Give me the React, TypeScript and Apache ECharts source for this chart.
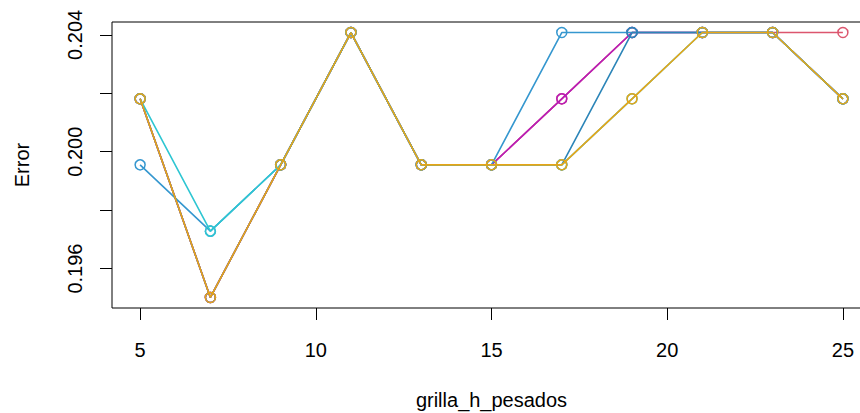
import React, { useEffect, useRef } from "react";
import * as echarts from "echarts";

const xValues = [5, 7, 9, 11, 13, 15, 17, 19, 21, 23, 25];
const seriesNames = ["s1", "s2", "s3", "s4", "s5", "s6"];
const seriesColors = ["#DC566E", "#B81CB8", "#3597CF", "#2C85B8", "#2EC6D2", "#E8A516"];
const s1 = [0.20181, 0.19501, 0.19955, 0.20408, 0.19955, 0.19955, 0.20181, 0.20408, 0.20408, 0.20408, 0.20408];
const s2 = [0.20181, 0.19501, 0.19955, 0.20408, 0.19955, 0.19955, 0.20181, 0.20408, 0.20408, 0.20408, 0.20181];
const s3 = [0.19955, 0.19728, 0.19955, 0.20408, 0.19955, 0.19955, 0.20408, 0.20408, 0.20408, 0.20408, 0.20181];
const s4 = [0.20181, 0.19501, 0.19955, 0.20408, 0.19955, 0.19955, 0.19955, 0.20408, 0.20408, 0.20408, 0.20181];
const s5 = [0.20181, 0.19728, 0.19955, 0.20408, 0.19955, 0.19955, 0.19955, 0.20181, 0.20408, 0.20408, 0.20181];
const s6 = [0.20181, 0.19501, 0.19955, 0.20408, 0.19955, 0.19955, 0.19955, 0.20181, 0.20408, 0.20408, 0.20181];
const allSeries = [s1, s2, s3, s4, s5, s6];
const xTicks = [5, 10, 15, 20, 25];
const yTicks = [0.196, 0.198, 0.2, 0.202, 0.204];
const yLabels = [0.196, 0.2, 0.204];

export default function App() {
  const ref = useRef<HTMLDivElement>(null);
  useEffect(() => {
    const chart = echarts.init(ref.current!, null, { renderer: "svg" });
    const font = "'Liberation Sans', Arial, Helvetica, sans-serif";
    chart.setOption({
      animation: false,
      grid: {
        left: 112,
        top: 22,
        width: 759,
        height: 286,
        outerBoundsMode: "none",
        containLabel: false,
        show: true,
        borderColor: "#000",
        borderWidth: 1,
        backgroundColor: "transparent",
      },
      xAxis: {
        type: "value",
        min: 4.2,
        max: 25.8,
        name: "grilla_h_pesados",
        nameLocation: "middle",
        nameGap: 82,
        nameTextStyle: { fontFamily: font, fontSize: 20, color: "#000" },
        axisLine: { show: false },
        splitLine: { show: false },
        axisTick: { show: true, length: 12, customValues: xTicks, lineStyle: { color: "#000", width: 1 } },
        axisLabel: {
          customValues: xTicks,
          margin: 32,
          fontFamily: font,
          fontSize: 20,
          color: "#000",
          hideOverlap: false,
        },
      },
      yAxis: {
        type: "value",
        min: 0.19465,
        max: 0.20444,
        name: "Error",
        nameLocation: "middle",
        nameRotate: 90,
        nameGap: 80,
        nameTextStyle: { fontFamily: font, fontSize: 20, color: "#000" },
        axisLine: { show: false },
        splitLine: { show: false },
        axisTick: { show: true, length: 12, customValues: yTicks, lineStyle: { color: "#000", width: 1 } },
        axisLabel: {
          customValues: yLabels,
          rotate: 90,
          margin: 27,
          fontFamily: font,
          fontSize: 20,
          color: "#000",
          formatter: (v: number) => v.toFixed(3),
        },
      },
      series: allSeries.map((d, i) => ({
        name: seriesNames[i],
        type: "line",
        data: d.map((v, j) => [xValues[j], v]),
        symbol: "circle",
        symbolSize: 10,
        color: seriesColors[i],
        lineStyle: { width: 1.6, color: seriesColors[i] },
        itemStyle: { borderWidth: 1.5, color: "rgba(0,0,0,0)", borderColor: seriesColors[i] },
        z: 2 + i,
      })),
    });
    return () => chart.dispose();
  }, []);
  return <div ref={ref} style={{ position: "absolute", left: 0, top: 0, width: 860, height: 413 }} />;
}
